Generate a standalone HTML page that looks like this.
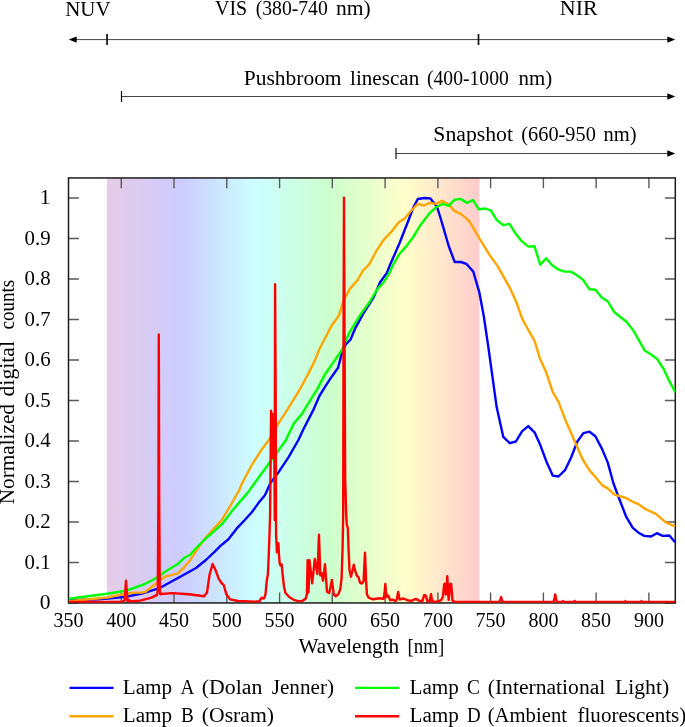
<!DOCTYPE html>
<html><head><meta charset="utf-8"><title>Lamp spectra</title>
<style>html,body{margin:0;padding:0;background:#fff;}svg{display:block;}text{font-family:"Liberation Serif",serif;fill:#000;}svg{will-change:transform;}</style></head><body>
<svg width="685" height="727" viewBox="0 0 685 727">
<defs><linearGradient id="rb" x1="0" x2="1" y1="0" y2="0"><stop offset="0" stop-color="#800080"/><stop offset="0.2" stop-color="#0000ff"/><stop offset="0.4" stop-color="#00ffff"/><stop offset="0.6" stop-color="#00ff00"/><stop offset="0.8" stop-color="#ffff00"/><stop offset="1" stop-color="#ff0000"/></linearGradient><clipPath id="cp"><rect x="68.5" y="177.95" width="606.8" height="424.8500000000001"/></clipPath></defs>
<rect width="685" height="727" fill="#fff"/>
<rect x="106.9" y="177.95" width="372.5" height="425.00000000000006" fill="url(#rb)" fill-opacity="0.2"/>
<path d="M121.3,602.95 v-10.4 M121.3,177.95 v10.4 M174.0,602.95 v-10.4 M174.0,177.95 v10.4 M226.8,602.95 v-10.4 M226.8,177.95 v10.4 M279.6,602.95 v-10.4 M279.6,177.95 v10.4 M332.3,602.95 v-10.4 M332.3,177.95 v10.4 M385.1,602.95 v-10.4 M385.1,177.95 v10.4 M437.9,602.95 v-10.4 M437.9,177.95 v10.4 M490.6,602.95 v-10.4 M490.6,177.95 v10.4 M543.4,602.95 v-10.4 M543.4,177.95 v10.4 M596.1,602.95 v-10.4 M596.1,177.95 v10.4 M648.9,602.95 v-10.4 M648.9,177.95 v10.4 M68.5,603.0 h10.4 M675.3,603.0 h-10.4 M68.5,562.5 h10.4 M675.3,562.5 h-10.4 M68.5,522.0 h10.4 M675.3,522.0 h-10.4 M68.5,481.5 h10.4 M675.3,481.5 h-10.4 M68.5,441.0 h10.4 M675.3,441.0 h-10.4 M68.5,400.5 h10.4 M675.3,400.5 h-10.4 M68.5,360.0 h10.4 M675.3,360.0 h-10.4 M68.5,319.5 h10.4 M675.3,319.5 h-10.4 M68.5,279.0 h10.4 M675.3,279.0 h-10.4 M68.5,238.5 h10.4 M675.3,238.5 h-10.4 M68.5,198.0 h10.4 M675.3,198.0 h-10.4" stroke="#5a5a5a" stroke-width="1.4" fill="none"/>
<rect x="68.5" y="177.95" width="606.8" height="425.00000000000006" fill="none" stroke="#1c1c1c" stroke-width="1.5"/>
<g clip-path="url(#cp)" fill="none" stroke-width="2.4" stroke-linejoin="round" stroke-linecap="butt">
<path d="M68.7,600.3 L100.0,599.3 L125.8,596.8 L141.9,593.6 L159.3,588.2 L174.3,580.0 L184.8,574.2 L196.0,568.0 L205.9,560.0 L214.5,551.9 L220.7,545.7 L228.2,539.5 L236.8,528.4 L245.0,519.7 L251.8,512.3 L258.4,503.1 L264.9,495.2 L270.2,483.4 L278.1,472.8 L288.6,457.1 L298.4,440.0 L303.3,429.5 L313.1,410.4 L319.4,396.0 L325.0,386.9 L330.2,378.9 L338.1,367.7 L342.0,352.6 L346.0,344.1 L350.6,339.5 L355.2,328.3 L363.1,313.9 L373.6,297.4 L380.1,282.3 L386.7,273.1 L390.2,264.5 L399.5,243.3 L408.7,219.7 L413.2,207.8 L417.8,199.0 L424.4,198.0 L430.3,198.4 L436.9,206.5 L440.2,217.0 L444.1,230.2 L448.7,246.0 L454.7,262.0 L461.0,262.0 L466.3,263.8 L473.3,271.6 L479.4,292.7 L483.8,316.3 L488.2,346.1 L491.8,372.0 L496.6,406.8 L503.3,436.9 L509.8,443.2 L515.9,441.5 L522.0,431.3 L528.2,426.1 L534.8,432.7 L540.4,445.3 L546.6,462.0 L552.7,475.6 L558.5,476.5 L565.0,470.2 L571.1,457.6 L577.2,441.8 L583.4,433.1 L589.5,431.7 L595.4,436.3 L602.0,448.9 L607.7,462.4 L613.5,483.5 L619.3,499.0 L626.0,516.3 L632.8,527.8 L638.5,532.7 L644.3,535.9 L651.1,536.5 L656.8,533.2 L662.6,535.9 L669.4,535.5 L675.1,542.3" stroke="#0000ff"/>
<path d="M68.7,601.3 L107.2,597.5 L125.8,593.8 L134.0,592.6 L141.9,592.6 L145.6,591.8 L159.3,580.9 L165.0,576.7 L177.4,573.6 L183.6,568.0 L189.8,560.6 L197.2,549.4 L204.6,538.9 L214.5,527.8 L222.0,519.7 L229.4,507.3 L239.3,490.0 L241.3,484.7 L251.8,465.0 L261.0,450.5 L268.9,440.0 L277.0,425.7 L287.6,409.3 L299.4,390.2 L308.6,373.1 L315.1,360.0 L319.0,350.0 L331.5,325.7 L338.8,315.8 L343.4,300.7 L349.9,288.9 L357.8,279.7 L363.1,270.5 L369.0,264.6 L371.6,260.0 L376.2,251.2 L384.1,239.4 L391.6,231.5 L398.8,222.3 L404.7,218.4 L411.3,210.5 L417.8,203.9 L423.8,205.5 L429.7,202.9 L436.2,203.9 L442.2,200.9 L449.4,205.2 L454.6,211.1 L459.9,213.4 L466.5,218.4 L470.0,222.3 L475.0,230.8 L479.2,238.1 L489.7,255.1 L497.8,266.4 L510.1,288.3 L517.1,304.1 L522.3,318.9 L528.5,330.3 L534.6,340.8 L539.9,358.4 L546.3,372.5 L552.7,391.9 L558.8,402.4 L565.0,419.1 L571.1,433.1 L577.2,447.1 L582.7,459.5 L589.4,470.1 L595.2,476.8 L602.0,485.1 L607.7,488.4 L614.5,494.7 L626.0,498.0 L632.8,501.8 L638.5,504.2 L645.3,509.0 L655.9,513.8 L665.5,522.1 L675.1,526.5" stroke="#ffa500"/>
<path d="M68.7,598.8 L107.2,593.8 L125.8,590.8 L145.0,584.0 L159.3,576.4 L165.0,571.7 L177.4,564.3 L184.8,557.5 L189.8,555.0 L197.2,547.0 L204.6,539.5 L214.5,530.9 L223.2,522.8 L231.9,511.1 L239.3,502.4 L247.8,492.6 L261.0,474.2 L274.1,456.4 L286.0,440.0 L287.6,436.2 L294.1,423.1 L302.0,413.9 L307.9,403.9 L317.1,389.4 L325.0,374.3 L332.8,363.1 L342.0,350.0 L346.0,340.1 L349.9,331.6 L361.8,312.6 L369.6,302.0 L377.5,288.9 L384.1,281.7 L390.0,271.8 L392.9,265.0 L399.5,253.8 L406.0,246.6 L412.6,238.1 L420.5,224.9 L429.7,213.1 L436.2,207.2 L442.8,203.9 L448.7,205.9 L454.6,199.7 L460.5,198.9 L467.1,202.9 L472.9,200.0 L478.9,209.4 L485.1,208.5 L491.0,210.7 L496.9,220.3 L503.5,225.2 L509.4,223.9 L516.0,234.1 L521.9,241.4 L528.5,246.6 L534.4,246.2 L540.3,264.8 L546.1,258.3 L552.4,265.5 L558.4,269.6 L564.6,271.6 L570.8,271.6 L577.0,275.2 L583.1,279.9 L589.3,289.2 L595.5,289.8 L601.7,297.4 L607.9,301.5 L614.1,311.9 L620.3,317.0 L626.4,321.8 L632.6,329.4 L638.8,340.1 L644.6,350.4 L651.2,354.5 L657.4,359.3 L663.6,369.0 L668.7,379.9 L675.3,392.3" stroke="#00ff00"/>
<path d="M68.7,602.0 L100.0,602.0 L121.0,602.0 L124.7,600.5 L125.4,590.0 L126.0,580.7 L126.7,590.0 L127.4,600.8 L128.5,601.2 L129.3,600.0 L130.2,601.4 L140.0,600.6 L148.0,598.7 L152.0,597.3 L155.5,595.6 L157.2,594.6 L157.8,590.0 L158.4,500.0 L158.8,334.4 L159.2,500.0 L159.8,590.0 L160.3,594.2 L161.8,594.0 L171.7,593.1 L189.0,594.3 L204.0,596.3 L207.0,592.5 L209.5,575.0 L212.6,564.0 L215.5,570.0 L218.8,578.9 L221.5,583.0 L223.8,585.1 L226.3,594.3 L230.0,599.3 L238.0,601.0 L255.0,601.6 L259.6,601.2 L260.9,598.5 L262.0,597.7 L263.0,598.5 L264.2,598.3 L265.5,594.3 L266.8,580.7 L267.9,574.1 L268.8,554.4 L269.6,530.8 L270.1,515.0 L270.8,440.0 L271.1,410.6 L271.6,440.0 L272.3,458.0 L273.1,413.9 L274.3,452.0 L274.8,520.0 L274.9,400.0 L275.1,284.2 L275.5,360.0 L275.9,450.0 L276.0,515.0 L276.1,534.7 L276.9,552.4 L278.4,543.2 L279.0,555.0 L279.7,563.6 L280.6,565.6 L281.7,564.3 L282.6,574.1 L283.9,586.0 L285.5,593.0 L289.2,597.0 L294.4,600.2 L298.4,601.2 L302.3,600.9 L305.6,598.9 L306.9,594.3 L307.6,560.3 L308.5,592.5 L309.5,560.3 L312.2,583.3 L314.8,559.0 L317.4,574.1 L319.0,534.7 L320.3,575.4 L321.4,572.8 L323.1,580.7 L325.0,564.3 L327.0,591.7 L329.2,593.0 L331.9,580.0 L333.8,594.3 L335.8,596.3 L338.3,594.3 L340.3,589.1 L341.6,578.1 L342.6,547.8 L343.2,515.0 L343.5,350.0 L344.0,197.6 L344.6,350.0 L345.2,480.0 L346.2,515.0 L346.8,524.2 L347.9,528.8 L348.5,547.8 L349.5,570.2 L351.0,576.8 L352.5,570.2 L353.8,564.7 L355.0,570.2 L356.7,575.4 L358.6,577.4 L360.0,582.7 L361.9,583.6 L363.6,581.4 L365.0,552.8 L366.1,580.7 L366.9,594.3 L368.5,597.6 L373.1,599.3 L379.7,598.3 L383.6,598.9 L384.6,592.5 L385.3,584.0 L386.0,592.5 L386.6,597.0 L388.2,595.4 L390.2,600.2 L392.8,599.6 L395.4,601.2 L396.8,599.6 L398.1,592.0 L399.6,599.6 L403.3,598.5 L407.3,600.2 L411.2,600.9 L415.8,598.9 L419.1,600.6 L422.4,601.2 L424.2,595.0 L425.8,595.7 L427.5,601.6 L429.5,601.6 L431.0,594.3 L432.3,601.6 L437.3,601.6 L441.3,600.1 L443.0,596.5 L443.8,588.0 L444.3,584.0 L445.3,584.0 L445.9,594.5 L446.6,590.5 L447.3,576.2 L448.0,590.5 L448.7,599.8 L449.6,590.5 L450.1,584.0 L451.2,584.0 L451.9,592.5 L452.5,600.5 L454.4,601.8 L467.6,601.9 L499.1,602.0 L500.3,600.0 L501.1,597.1 L501.9,600.0 L502.6,602.0 L553.5,602.0 L554.6,598.0 L555.2,594.5 L556.0,598.0 L556.8,602.0 L562.5,602.0 L563.0,601.1 L563.6,602.0 L574.0,602.0 L574.6,600.9 L575.3,602.0 L624.8,602.0 L625.4,601.1 L626.0,602.0 L641.0,602.0 L641.5,601.1 L642.0,602.0 L675.2,602.0" stroke="#ff0000"/>
</g>
<text x="68.5" y="626.8" font-size="21.5" text-anchor="middle" textLength="30" lengthAdjust="spacingAndGlyphs">350</text>
<text x="121.3" y="626.8" font-size="21.5" text-anchor="middle" textLength="30" lengthAdjust="spacingAndGlyphs">400</text>
<text x="174.0" y="626.8" font-size="21.5" text-anchor="middle" textLength="30" lengthAdjust="spacingAndGlyphs">450</text>
<text x="226.8" y="626.8" font-size="21.5" text-anchor="middle" textLength="30" lengthAdjust="spacingAndGlyphs">500</text>
<text x="279.6" y="626.8" font-size="21.5" text-anchor="middle" textLength="30" lengthAdjust="spacingAndGlyphs">550</text>
<text x="332.3" y="626.8" font-size="21.5" text-anchor="middle" textLength="30" lengthAdjust="spacingAndGlyphs">600</text>
<text x="385.1" y="626.8" font-size="21.5" text-anchor="middle" textLength="30" lengthAdjust="spacingAndGlyphs">650</text>
<text x="437.9" y="626.8" font-size="21.5" text-anchor="middle" textLength="30" lengthAdjust="spacingAndGlyphs">700</text>
<text x="490.6" y="626.8" font-size="21.5" text-anchor="middle" textLength="30" lengthAdjust="spacingAndGlyphs">750</text>
<text x="543.4" y="626.8" font-size="21.5" text-anchor="middle" textLength="30" lengthAdjust="spacingAndGlyphs">800</text>
<text x="596.1" y="626.8" font-size="21.5" text-anchor="middle" textLength="30" lengthAdjust="spacingAndGlyphs">850</text>
<text x="648.9" y="626.8" font-size="21.5" text-anchor="middle" textLength="30" lengthAdjust="spacingAndGlyphs">900</text>
<text x="50.6" y="609.2" font-size="21.5" text-anchor="end">0</text>
<text x="50.6" y="568.8" font-size="21.5" text-anchor="end" textLength="26" lengthAdjust="spacingAndGlyphs">0.1</text>
<text x="50.6" y="528.2" font-size="21.5" text-anchor="end" textLength="26" lengthAdjust="spacingAndGlyphs">0.2</text>
<text x="50.6" y="487.8" font-size="21.5" text-anchor="end" textLength="26" lengthAdjust="spacingAndGlyphs">0.3</text>
<text x="50.6" y="447.3" font-size="21.5" text-anchor="end" textLength="26" lengthAdjust="spacingAndGlyphs">0.4</text>
<text x="50.6" y="406.8" font-size="21.5" text-anchor="end" textLength="26" lengthAdjust="spacingAndGlyphs">0.5</text>
<text x="50.6" y="366.3" font-size="21.5" text-anchor="end" textLength="26" lengthAdjust="spacingAndGlyphs">0.6</text>
<text x="50.6" y="325.8" font-size="21.5" text-anchor="end" textLength="26" lengthAdjust="spacingAndGlyphs">0.7</text>
<text x="50.6" y="285.3" font-size="21.5" text-anchor="end" textLength="26" lengthAdjust="spacingAndGlyphs">0.8</text>
<text x="50.6" y="244.8" font-size="21.5" text-anchor="end" textLength="26" lengthAdjust="spacingAndGlyphs">0.9</text>
<text x="50.6" y="204.3" font-size="21.5" text-anchor="end">1</text>
<text x="298.5" y="652.8" font-size="20.5" textLength="100.7" lengthAdjust="spacingAndGlyphs">Wavelength</text><text x="407.5" y="652.8" font-size="20.5" textLength="36.7" lengthAdjust="spacingAndGlyphs">[nm]</text>
<text transform="translate(14.1,504.2) rotate(-90)" font-size="20.5" textLength="100.1" lengthAdjust="spacingAndGlyphs">Normalized</text>
<text transform="translate(14.1,396.5) rotate(-90)" font-size="20.5" textLength="55.5" lengthAdjust="spacingAndGlyphs">digital</text>
<text transform="translate(14.1,329.6) rotate(-90)" font-size="20.5" textLength="49.9" lengthAdjust="spacingAndGlyphs">counts</text>
<text x="65.2" y="15.5" font-size="21.6" textLength="45.4" lengthAdjust="spacingAndGlyphs">NUV</text>
<text x="215.0" y="15.3" font-size="20.5" textLength="32.1" lengthAdjust="spacingAndGlyphs">VIS</text><text x="255.7" y="15.3" font-size="20.5" textLength="72.1" lengthAdjust="spacingAndGlyphs">(380-740</text><text x="335.9" y="15.3" font-size="20.5" textLength="34.7" lengthAdjust="spacingAndGlyphs">nm)</text>
<text x="559.8" y="15.4" font-size="21.6" textLength="37.9" lengthAdjust="spacingAndGlyphs">NIR</text>
<text x="243.7" y="84.6" font-size="20.5" textLength="97.9" lengthAdjust="spacingAndGlyphs">Pushbroom</text><text x="350.1" y="84.6" font-size="20.5" textLength="69.1" lengthAdjust="spacingAndGlyphs">linescan</text><text x="427.0" y="84.6" font-size="20.5" textLength="81.8" lengthAdjust="spacingAndGlyphs">(400-1000</text><text x="518.5" y="84.6" font-size="20.5" textLength="33.7" lengthAdjust="spacingAndGlyphs">nm)</text>
<text x="433.3" y="141.3" font-size="20.5" textLength="79.7" lengthAdjust="spacingAndGlyphs">Snapshot</text><text x="521.3" y="141.3" font-size="20.5" textLength="74.5" lengthAdjust="spacingAndGlyphs">(660-950</text><text x="603.5" y="141.3" font-size="20.5" textLength="33.1" lengthAdjust="spacingAndGlyphs">nm)</text>
<g stroke="#444" stroke-width="1.0" fill="none">
<path d="M72,39.6 H671 M121.5,96.5 H671 M396,153.5 H671"/>
</g>
<g stroke="#111" stroke-width="1.7" fill="none">
<path d="M107.05,34 V45.1 M478.5,34 V45.1"/>
<path d="M121.5,90.9 V102.1 M396,148 V159" stroke-width="1.2"/>
</g>
<path d="M68.7,39.6 l8,-3.2 l0,6.4 z" fill="#000"/>
<path d="M675.3,39.6 l-8,-3.2 l0,6.4 z" fill="#000"/>
<path d="M675.3,96.5 l-8,-3.2 l0,6.4 z" fill="#000"/>
<path d="M675.3,153.5 l-8,-3.2 l0,6.4 z" fill="#000"/>
<g stroke-width="2.4" fill="none">
<path d="M69.5,687.9 H113.5" stroke="#0000ff"/><path d="M69.5,716.3 H113.5" stroke="#ffa500"/>
<path d="M355,687.9 H399.2" stroke="#00ff00"/><path d="M355,716.3 H399.2" stroke="#ff0000"/></g>
<text x="122.8" y="693.5" font-size="20.5" textLength="49.3" lengthAdjust="spacingAndGlyphs">Lamp</text><text x="180.5" y="693.5" font-size="20.5" textLength="13.9" lengthAdjust="spacingAndGlyphs">A</text><text x="201.8" y="693.5" font-size="20.5" textLength="60.6" lengthAdjust="spacingAndGlyphs">(Dolan</text><text x="271.7" y="693.5" font-size="20.5" textLength="62.3" lengthAdjust="spacingAndGlyphs">Jenner)</text>
<text x="122.8" y="721.7" font-size="20.5" textLength="49.3" lengthAdjust="spacingAndGlyphs">Lamp</text><text x="181.0" y="721.7" font-size="20.5" textLength="12.8" lengthAdjust="spacingAndGlyphs">B</text><text x="201.8" y="721.7" font-size="20.5" textLength="72.2" lengthAdjust="spacingAndGlyphs">(Osram)</text>
<text x="409.5" y="693.5" font-size="20.5" textLength="49.3" lengthAdjust="spacingAndGlyphs">Lamp</text><text x="466.9" y="693.5" font-size="20.5" textLength="12.9" lengthAdjust="spacingAndGlyphs">C</text><text x="487.7" y="693.5" font-size="20.5" textLength="117.6" lengthAdjust="spacingAndGlyphs">(International</text><text x="615.0" y="693.5" font-size="20.5" textLength="54.2" lengthAdjust="spacingAndGlyphs">Light)</text>
<text x="409.5" y="721.7" font-size="20.5" textLength="49.3" lengthAdjust="spacingAndGlyphs">Lamp</text><text x="466.9" y="721.7" font-size="20.5" textLength="13.7" lengthAdjust="spacingAndGlyphs">D</text><text x="487.7" y="721.7" font-size="20.5" textLength="79.3" lengthAdjust="spacingAndGlyphs">(Ambient</text><text x="577.5" y="721.7" font-size="20.5" textLength="108.7" lengthAdjust="spacingAndGlyphs">fluorescents)</text>
</svg></body></html>
